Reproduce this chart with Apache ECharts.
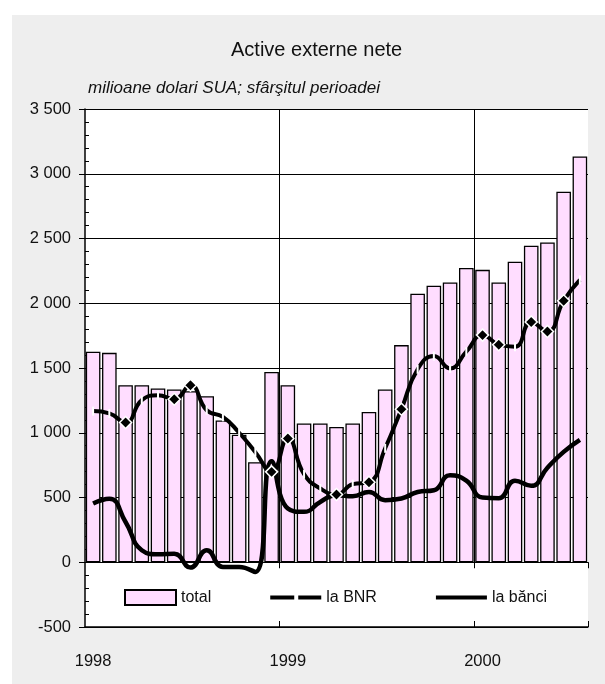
<!DOCTYPE html>
<html>
<head>
<meta charset="utf-8">
<script src="https://cdn.jsdelivr.net/npm/echarts/dist/echarts.min.js"></script>
<style>
html,body{margin:0;padding:0;background:#ffffff;}
#c{position:absolute;left:12px;top:15px;width:593px;height:669px;}
</style>
</head>
<body>
<div id="c"></div>
<script>
// ---- data ----
const months = [
  '1998-01','1998-02','1998-03','1998-04','1998-05','1998-06','1998-07','1998-08','1998-09','1998-10','1998-11','1998-12',
  '1999-01','1999-02','1999-03','1999-04','1999-05','1999-06','1999-07','1999-08','1999-09','1999-10','1999-11','1999-12',
  '2000-01','2000-02','2000-03','2000-04','2000-05','2000-06','2000-07'
];
const yearLabels = ['1998', '1999', '2000'];
const total = [1625, 1617, 1367, 1367, 1342, 1334, 1320, 1282, 1095, 985, 773, 1469,
               1367, 1071, 1071, 1045, 1071, 1160, 1334, 1677, 2073, 2135, 2160, 2272,
               2258, 2160, 2320, 2444, 2470, 2861, 3134];
const laBNR = [1167, 1149, 1079, 1252, 1290, 1259, 1367, 1174, 1123, 1000, 850, 698,
               955, 680, 569, 523, 603, 618, 880, 1182, 1490, 1592, 1497, 1626,
               1754, 1680, 1664, 1855, 1782, 2019, 2180];
const laBanci = [453, 490, 311, 93, 62, 65, -41, 93, -36, -36, -75, 780,
                 415, 389, 466, 518, 510, 543, 479, 492, 543, 556, 672, 630,
                 500, 495, 630, 590, 730, 852, 945];
const seriesNames = ['total', 'la BNR', 'la b\u0103nci'];
const title = 'Active externe nete';
const subtitle = 'milioane dolari SUA; sf\u00e2r\u015fitul perioadei';

// ---- style config ----
const bnrDiamondIdx = [2, 5, 6, 11, 12, 15, 17, 19, 24, 25, 27, 28, 29];
const FONT = '"Liberation Sans", Arial, Helvetica, sans-serif';
const TXT = '#111111';

const yearStarts = months.map((m, i) => (m.endsWith('-01') && i > 0) ? i : -1).filter(i => i >= 0);

function fmtNum(v) {
  const s = Math.abs(v).toString();
  const t = s.length > 3 ? s.slice(0, -3) + ' ' + s.slice(-3) : s;
  return (v < 0 ? '-' : '') + t;
}

const bnrData = laBNR.map((v, i) => {
  if (bnrDiamondIdx.indexOf(i) >= 0) {
    return { value: v, symbol: 'diamond', symbolSize: 12,
             itemStyle: { color: '#000', borderColor: '#fff', borderWidth: 1.5 } };
  }
  return { value: v, symbol: 'rect', symbolSize: [2, 9],
           itemStyle: { color: '#fff', borderWidth: 0 } };
});

const chart = echarts.init(document.getElementById('c'), null, { renderer: 'canvas' });
chart.setOption({
  animation: false,
  backgroundColor: '#eeeeee',
  textStyle: { fontFamily: FONT },
  title: [
    { text: title, left: 219, top: 25, padding: 0,
      textStyle: { fontFamily: FONT, fontSize: 20, fontWeight: 'normal', color: TXT } },
    { text: subtitle, left: 76, top: 65, padding: 0,
      textStyle: { fontFamily: FONT, fontSize: 17, fontStyle: 'italic', fontWeight: 'normal', color: TXT } }
  ],
  legend: {
    left: 112, top: 574, padding: 0,
    itemWidth: 51, itemHeight: 15, itemGap: 57,
    textStyle: { fontFamily: FONT, fontSize: 16, color: TXT },
    selectedMode: false,
    data: [
      { name: seriesNames[0], icon: 'rect' },
      { name: seriesNames[1], itemStyle: { opacity: 0 }, lineStyle: { type: [24, 4], width: 4, color: '#000' } },
      { name: seriesNames[2], itemStyle: { opacity: 0 }, lineStyle: { width: 4, color: '#000' } }
    ]
  },
  grid: {
    left: 73, right: 17, top: 94, bottom: 57,
    containLabel: false, outerBoundsMode: 'none',
    show: true, backgroundColor: '#ffffff', borderWidth: 0
  },
  xAxis: [
    {
      type: 'category', data: months, position: 'bottom', boundaryGap: true,
      axisLine: { show: true, onZero: false, lineStyle: { color: '#000', width: 1.5 } },
      axisTick: { show: true, inside: true, length: 6, lineStyle: { color: '#000', width: 1 },
                  interval: (i) => yearStarts.indexOf(i) >= 0 },
      axisLabel: { show: true, interval: (i) => i % 12 === 0,
                   formatter: (v, i) => yearLabels[Math.floor(i / 12)],
                   fontFamily: FONT, fontSize: 16.5, color: TXT, margin: 26 },
      splitLine: { show: false }
    },
    {
      type: 'category', data: months, position: 'bottom', boundaryGap: true,
      axisLine: { show: true, onZero: true, lineStyle: { color: '#000', width: 1 } },
      axisTick: { show: true, inside: false, length: 6, lineStyle: { color: '#000', width: 1 },
                  interval: (i) => yearStarts.indexOf(i) >= 0 },
      axisLabel: { show: false },
      splitLine: { show: false }
    },
    {
      type: 'value', min: 0, max: months.length, show: false,
      splitLine: { show: false }
    }
  ],
  yAxis: [
    {
      type: 'value', min: -500, max: 3500, interval: 500, position: 'left',
      axisLine: { show: true, lineStyle: { color: '#000', width: 1.5 } },
      axisTick: { show: true, inside: false, length: 6, lineStyle: { color: '#000', width: 1 } },
      axisLabel: { formatter: fmtNum, fontFamily: FONT, fontSize: 16.5, color: TXT, margin: 14 },
      splitLine: { show: true, lineStyle: { color: '#000', width: 1 } }
    },
    {
      type: 'value', min: -500, max: 3500, interval: 100, position: 'left',
      axisLine: { show: false },
      axisTick: { show: true, inside: true, length: 4, lineStyle: { color: '#000', width: 1 } },
      axisLabel: { show: false },
      splitLine: { show: false }
    }
  ],
  series: [
    {
      name: seriesNames[0], type: 'bar', xAxisIndex: 0, yAxisIndex: 0,
      data: total, barCategoryGap: '10%',
      itemStyle: { color: '#ffddff', borderColor: '#000', borderWidth: 1.3 },
      z: 2
    },
    {
      name: 'yearlines', type: 'line', xAxisIndex: 2, yAxisIndex: 0, data: [],
      silent: true, z: 3,
      markLine: {
        silent: true, symbol: 'none', label: { show: false },
        lineStyle: { color: '#000', width: 1, type: 'solid' },
        emphasis: { disabled: true },
        data: yearStarts.map(i => [{ coord: [i, 0] }, { coord: [i, 3500] }])
      }
    },
    {
      name: seriesNames[2], type: 'line', xAxisIndex: 0, yAxisIndex: 0,
      data: laBanci, smooth: 0.5, showSymbol: false, symbol: 'none',
      lineStyle: { color: '#000', width: 4.5 }, itemStyle: { color: '#000' }, z: 4
    },
    {
      name: seriesNames[1], type: 'line', xAxisIndex: 0, yAxisIndex: 0,
      data: bnrData, smooth: 0.5, symbol: 'diamond', showAllSymbol: true,
      lineStyle: { color: '#000', width: 4 }, itemStyle: { color: '#000' }, z: 5
    }
  ]
});
</script>
</body>
</html>
